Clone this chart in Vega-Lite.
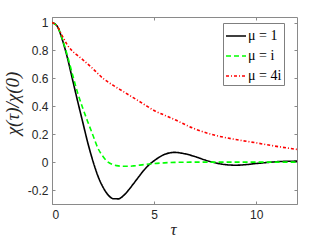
{
  "$schema": "https://vega.github.io/schema/vega-lite/v6.json",
  "width": 245,
  "height": 187,
  "autosize": "none",
  "padding": {"left": 52, "top": 17, "right": 30, "bottom": 41},
  "background": "white",
  "config": {
    "view": {"stroke": "#8a8a8a", "strokeWidth": 1},
    "font": "Liberation Sans"
  },
  "data": {
    "values": [
      {"t": 0, "v": 1, "mu": "μ = 1"},
      {"t": 0.25, "v": 0.975, "mu": "μ = 1"},
      {"t": 0.5, "v": 0.88, "mu": "μ = 1"},
      {"t": 0.75, "v": 0.75, "mu": "μ = 1"},
      {"t": 1.0, "v": 0.595, "mu": "μ = 1"},
      {"t": 1.25, "v": 0.44, "mu": "μ = 1"},
      {"t": 1.5, "v": 0.29, "mu": "μ = 1"},
      {"t": 1.75, "v": 0.14, "mu": "μ = 1"},
      {"t": 2.0, "v": 0.01, "mu": "μ = 1"},
      {"t": 2.25, "v": -0.1, "mu": "μ = 1"},
      {"t": 2.5, "v": -0.18, "mu": "μ = 1"},
      {"t": 2.75, "v": -0.235, "mu": "μ = 1"},
      {"t": 3.0, "v": -0.262, "mu": "μ = 1"},
      {"t": 3.25, "v": -0.263, "mu": "μ = 1"},
      {"t": 3.5, "v": -0.24, "mu": "μ = 1"},
      {"t": 3.75, "v": -0.2, "mu": "μ = 1"},
      {"t": 4.0, "v": -0.153, "mu": "μ = 1"},
      {"t": 4.25, "v": -0.105, "mu": "μ = 1"},
      {"t": 4.5, "v": -0.058, "mu": "μ = 1"},
      {"t": 4.75, "v": -0.02, "mu": "μ = 1"},
      {"t": 5.0, "v": 0.01, "mu": "μ = 1"},
      {"t": 5.25, "v": 0.035, "mu": "μ = 1"},
      {"t": 5.5, "v": 0.055, "mu": "μ = 1"},
      {"t": 5.75, "v": 0.066, "mu": "μ = 1"},
      {"t": 6.0, "v": 0.07, "mu": "μ = 1"},
      {"t": 6.5, "v": 0.06, "mu": "μ = 1"},
      {"t": 7.0, "v": 0.04, "mu": "μ = 1"},
      {"t": 7.5, "v": 0.015, "mu": "μ = 1"},
      {"t": 8.0, "v": -0.005, "mu": "μ = 1"},
      {"t": 8.5, "v": -0.018, "mu": "μ = 1"},
      {"t": 9.0, "v": -0.022, "mu": "μ = 1"},
      {"t": 9.5, "v": -0.018, "mu": "μ = 1"},
      {"t": 10.0, "v": -0.01, "mu": "μ = 1"},
      {"t": 10.5, "v": -0.003, "mu": "μ = 1"},
      {"t": 11.0, "v": 0.003, "mu": "μ = 1"},
      {"t": 11.5, "v": 0.006, "mu": "μ = 1"},
      {"t": 12.0, "v": 0.007, "mu": "μ = 1"},
      {"t": 0, "v": 1, "mu": "μ = i"},
      {"t": 0.25, "v": 0.975, "mu": "μ = i"},
      {"t": 0.5, "v": 0.885, "mu": "μ = i"},
      {"t": 0.75, "v": 0.765, "mu": "μ = i"},
      {"t": 1.0, "v": 0.63, "mu": "μ = i"},
      {"t": 1.25, "v": 0.5, "mu": "μ = i"},
      {"t": 1.5, "v": 0.39, "mu": "μ = i"},
      {"t": 1.75, "v": 0.29, "mu": "μ = i"},
      {"t": 2.0, "v": 0.195, "mu": "μ = i"},
      {"t": 2.25, "v": 0.1, "mu": "μ = i"},
      {"t": 2.5, "v": 0.04, "mu": "μ = i"},
      {"t": 2.75, "v": 0.0, "mu": "μ = i"},
      {"t": 3.0, "v": -0.018, "mu": "μ = i"},
      {"t": 3.25, "v": -0.027, "mu": "μ = i"},
      {"t": 3.5, "v": -0.03, "mu": "μ = i"},
      {"t": 3.75, "v": -0.03, "mu": "μ = i"},
      {"t": 4.0, "v": -0.027, "mu": "μ = i"},
      {"t": 4.5, "v": -0.018, "mu": "μ = i"},
      {"t": 5.0, "v": -0.01, "mu": "μ = i"},
      {"t": 5.5, "v": -0.005, "mu": "μ = i"},
      {"t": 6.0, "v": -0.002, "mu": "μ = i"},
      {"t": 7.0, "v": 0.0, "mu": "μ = i"},
      {"t": 8.0, "v": 0.0, "mu": "μ = i"},
      {"t": 9.0, "v": 0.0, "mu": "μ = i"},
      {"t": 10.0, "v": 0.0, "mu": "μ = i"},
      {"t": 11.0, "v": 0.0, "mu": "μ = i"},
      {"t": 12.0, "v": 0.0, "mu": "μ = i"},
      {"t": 0, "v": 1, "mu": "μ = 4i"},
      {"t": 0.25, "v": 0.975, "mu": "μ = 4i"},
      {"t": 0.5, "v": 0.905, "mu": "μ = 4i"},
      {"t": 0.75, "v": 0.84, "mu": "μ = 4i"},
      {"t": 1.0, "v": 0.795, "mu": "μ = 4i"},
      {"t": 1.25, "v": 0.765, "mu": "μ = 4i"},
      {"t": 1.5, "v": 0.735, "mu": "μ = 4i"},
      {"t": 2.0, "v": 0.67, "mu": "μ = 4i"},
      {"t": 2.5, "v": 0.6, "mu": "μ = 4i"},
      {"t": 3.0, "v": 0.55, "mu": "μ = 4i"},
      {"t": 3.5, "v": 0.505, "mu": "μ = 4i"},
      {"t": 4.0, "v": 0.46, "mu": "μ = 4i"},
      {"t": 4.5, "v": 0.415, "mu": "μ = 4i"},
      {"t": 5.0, "v": 0.37, "mu": "μ = 4i"},
      {"t": 5.5, "v": 0.337, "mu": "μ = 4i"},
      {"t": 6.0, "v": 0.305, "mu": "μ = 4i"},
      {"t": 7.0, "v": 0.238, "mu": "μ = 4i"},
      {"t": 8.0, "v": 0.192, "mu": "μ = 4i"},
      {"t": 9.0, "v": 0.162, "mu": "μ = 4i"},
      {"t": 10.0, "v": 0.138, "mu": "μ = 4i"},
      {"t": 11.0, "v": 0.113, "mu": "μ = 4i"},
      {"t": 12.0, "v": 0.091, "mu": "μ = 4i"}
    ]
  },
  "layer": [
    {
      "mark": {"type": "line", "strokeWidth": 1.6, "interpolate": "monotone", "clip": true},
      "encoding": {
        "x": {
          "field": "t", "type": "quantitative",
          "scale": {"domain": [0, 12], "nice": false, "zero": false},
          "axis": {
            "orient": "bottom", "values": [0, 5, 10], "grid": false,
            "tickSize": -3, "tickColor": "#8a8a8a", "domainColor": "#8a8a8a",
            "labelFontSize": 12, "labelColor": "#262626", "labelPadding": 8,
            "title": "τ", "titleFont": "Liberation Serif", "titleFontStyle": "italic",
            "titleFontWeight": "normal", "titleFontSize": 17, "titleColor": "#262626",
            "titleX": 121, "titleY": 30, "titleBaseline": "alphabetic"
          }
        },
        "y": {
          "field": "v", "type": "quantitative",
          "scale": {"domain": [-0.3, 1.04], "nice": false, "zero": false},
          "axis": {
            "orient": "left", "values": [-0.2, 0, 0.2, 0.4, 0.6, 0.8, 1], "grid": false,
            "labelExpr": "'' + datum.value",
            "tickSize": -3, "tickColor": "#8a8a8a", "domainColor": "#8a8a8a",
            "labelFontSize": 12, "labelColor": "#262626", "labelPadding": 7,
            "title": "χ(τ)/χ(0)", "titleFont": "Liberation Serif", "titleFontStyle": "italic",
            "titleFontWeight": "normal", "titleFontSize": 19, "titleColor": "#262626",
            "titleX": -40, "titleY": 86, "titleAngle": -90, "titleAlign": "center", "titleBaseline": "middle"
          }
        },
        "color": {
          "field": "mu", "type": "nominal",
          "scale": {"domain": ["μ = 1", "μ = i", "μ = 4i"], "range": ["#000000", "#00ff00", "#ff0000"]},
          "legend": {
            "orient": "none", "legendX": 171, "legendY": 6, "title": null,
            "symbolType": "stroke", "symbolSize": 400, "symbolStrokeWidth": 1.6,
            "strokeColor": "#7f7f7f", "fillColor": "white", "padding": 2,
            "labelFont": "Liberation Serif", "labelFontSize": 14, "labelColor": "#000000",
            "labelOffset": 1, "rowPadding": 2
          }
        },
        "strokeDash": {
          "field": "mu", "type": "nominal",
          "scale": {"domain": ["μ = 1", "μ = i", "μ = 4i"], "range": [[1, 0], [5, 3], [3, 2, 1, 2]]},
          "legend": {
            "orient": "none", "legendX": 171, "legendY": 6, "title": null,
            "symbolType": "stroke", "symbolSize": 400, "symbolStrokeWidth": 1.6,
            "strokeColor": "#7f7f7f", "fillColor": "white", "padding": 2,
            "labelFont": "Liberation Serif", "labelFontSize": 14, "labelColor": "#000000",
            "labelOffset": 1, "rowPadding": 2
          }
        }
      }
    },
    {
      "data": {"values": [{"a": 0}]},
      "mark": {"type": "point", "opacity": 0},
      "encoding": {
        "x": {
          "datum": 0, "type": "quantitative",
          "axis": {"orient": "top", "values": [0, 5, 10], "labels": false, "domain": false, "grid": false, "tickSize": -3, "tickColor": "#8a8a8a", "title": null}
        },
        "y": {
          "datum": 0, "type": "quantitative",
          "axis": {"orient": "right", "values": [-0.2, 0, 0.2, 0.4, 0.6, 0.8, 1], "labels": false, "domain": false, "grid": false, "tickSize": -3, "tickColor": "#8a8a8a", "title": null}
        }
      }
    }
  ],
  "resolve": {"axis": {"x": "independent", "y": "independent"}}
}
